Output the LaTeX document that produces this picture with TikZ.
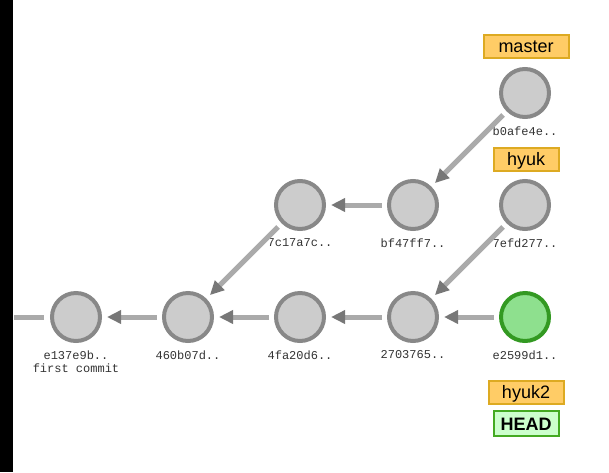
\documentclass[tikz,border=0pt]{standalone}
\usepackage{fontspec}
\setmainfont{Liberation Sans}
\newfontfamily\hexfont{Liberation Mono}
\usetikzlibrary{arrows.meta}
\definecolor{cfill}{HTML}{CCCCCC}
\definecolor{cstroke}{HTML}{888888}
\definecolor{gfill}{HTML}{8EE08E}
\definecolor{gstroke}{HTML}{339922}
\definecolor{lnc}{HTML}{AAAAAA}
\definecolor{tipc}{HTML}{777777}
\definecolor{bfill}{HTML}{FFCC66}
\definecolor{bstroke}{HTML}{DDAA22}
\definecolor{hfill}{HTML}{CCFFCC}
\definecolor{hstroke}{HTML}{44AA22}
\definecolor{hextext}{HTML}{333333}
\tikzset{
  commit/.style={circle, draw=cstroke, fill=cfill, line width=4pt, minimum size=48pt, inner sep=0pt},
  gcommit/.style={commit, draw=gstroke, fill=gfill},
  hexlbl/.style={font=\hexfont\fontsize{12}{13}\selectfont, text=hextext, inner sep=0pt},
  branch/.style={draw=bstroke, fill=bfill, line width=2pt, font=\fontsize{18}{20}\selectfont, text height=14pt, text depth=2pt, minimum height=23pt, inner sep=0pt},
  headbox/.style={draw=hstroke, fill=hfill, line width=2pt, font=\bfseries\fontsize{18}{20}\selectfont, text height=15pt, text depth=1pt, minimum height=25pt, minimum width=65pt, inner sep=0pt},
  parentarrow/.style={draw=lnc, line width=5pt, shorten <=5pt, shorten >=5pt, -{Triangle[color=tipc, length=14pt, width=13pt]}},
  plainline/.style={draw=lnc, line width=5pt, shorten <=6pt}
}
\begin{document}
\begin{tikzpicture}[x=1pt,y=-1pt]
\useasboundingbox (0,0) rectangle (609,472);
\fill[black] (0,0) rectangle (13,472);
% commits
\node[commit] (c1) at (76,317) {};
\node[commit] (c2) at (188,317) {};
\node[commit] (c3) at (300,317) {};
\node[commit] (c4) at (413,317) {};
\node[gcommit] (c5) at (525,317) {};
\node[commit] (c6) at (300,205) {};
\node[commit] (c7) at (413,205) {};
\node[commit] (c8) at (525,205) {};
\node[commit] (c9) at (525,93) {};
% hash labels
\node[hexlbl] (l1) at (76,355) {e137e9b..};
\node[hexlbl] (l1b) at (76,368) {first commit};
\node[hexlbl] (l2) at (188,355) {460b07d..};
\node[hexlbl] (l3) at (300,355) {4fa20d6..};
\node[hexlbl] (l4) at (413,355) {2703765..};
\node[hexlbl] (l5) at (525,355) {e2599d1..};
\node[hexlbl] (l6) at (300,243) {7c17a7c..};
\node[hexlbl] (l7) at (413,243) {bf47ff7..};
\node[hexlbl] (l8) at (525,243) {7efd277..};
\node[hexlbl] (l9) at (525,131) {b0afe4e..};
% branches
\node[branch, minimum width=85pt] (bmaster) at (526,46) {master};
\node[branch, minimum width=65pt] (bhyuk) at (526,159) {hyuk};
\node[branch, minimum width=75pt] (bhyuk2) at (526,392) {hyuk2};
\node[headbox] (head) at (526,423) {HEAD};
% edges
\coordinate (lend) at (14,317);
\draw[plainline] (c1) -- (lend);
\draw[parentarrow] (c2) -- (c1);
\draw[parentarrow] (c3) -- (c2);
\draw[parentarrow] (c4) -- (c3);
\draw[parentarrow] (c5) -- (c4);
\draw[parentarrow] (c6) -- (c2);
\draw[parentarrow] (c7) -- (c6);
\draw[parentarrow] (c9) -- (c7);
\draw[parentarrow] (c8) -- (c4);
\end{tikzpicture}
\end{document}
